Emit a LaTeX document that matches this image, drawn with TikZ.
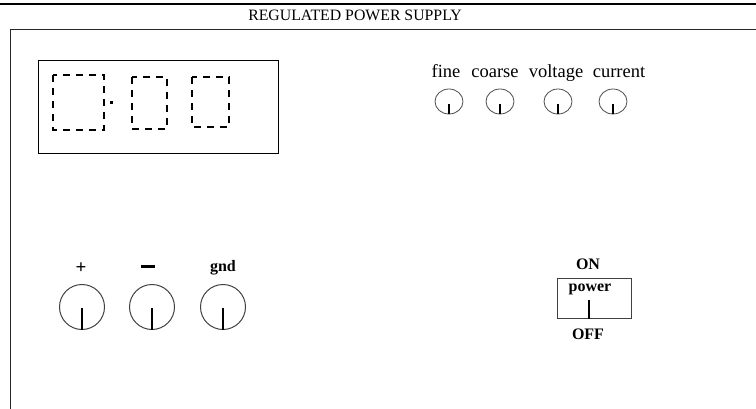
\documentclass[tikz,border=0pt]{standalone}
\usepackage{fontspec}
\setmainfont{Liberation Serif}
\begin{document}
\begin{tikzpicture}[x=1pt,y=-1pt,
  frameline/.style={line width=1pt,draw=black!85},
  digit/.style={line width=1.6pt,dash pattern=on 7pt off 6pt},
  bigknob/.style={draw=black!75,line width=1pt,circle,minimum size=45pt,inner sep=0pt},
  lbl/.style={font=\fontsize{18.5}{18.5}\selectfont,inner sep=0pt},
  blbl/.style={font=\bfseries\fontsize{16}{16}\selectfont,inner sep=0pt},
  pointer/.style={line width=2.2pt},
]
\useasboundingbox (0,0) rectangle (756,408);
\draw[line width=2.5pt] (0,4) -- (756,4);
\node[font=\fontsize{15.8}{15.8}\selectfont,inner sep=0pt] (title) at (355,15) {REGULATED POWER SUPPLY};
\draw[frameline] (757,29) -- (10,29) -- (10,409);
% display
\draw[line width=0.9pt] (38,60) rectangle (278,153);
\draw[digit] (53,75) rectangle (104,130);
\draw[digit] (132,77) rectangle (167,129);
\draw[digit] (192,77) rectangle (229,127);
\fill (110,101) rectangle (113,104);
% small knobs
\foreach \n/\x/\lx/\t in {fine/449/446/fine, coarse/500/495/coarse, voltage/558/556/voltage, current/613/619/current}{
  \node[lbl,anchor=base] (\n lbl) at (\lx,77) {\t};
  \draw[black!70,line width=0.8pt] (\x,101.5) ellipse [x radius=14pt, y radius=12.5pt];
  \coordinate (\n top) at (\x,104);
  \coordinate (\n bot) at (\x,114);
  \draw[pointer,line width=2pt] (\n top) -- (\n bot);
}
% big knobs
\foreach \n/\x/\lx/\t in {plus/82/81/{\fontsize{19}{19}\selectfont +}, minus/152/148/{\rule[3.5pt]{14pt}{2.6pt}}, gnd/223/223/gnd}{
  \node[blbl] (\n lbl) at (\lx,268) {\t};
  \node[bigknob] (\n) at (\x,307) {};
  \coordinate (\n c) at (\x,308);
  \draw[pointer,line width=2.6pt] (\n c) -- (\n.south);
}
% power switch
\node[blbl] (on) at (588,264) {ON};
\draw[line width=0.9pt,draw=black!75] (557,278) rectangle (631,318);
\node[blbl] (power) at (590,289) {power};
\coordinate (swtop) at (589,300);
\coordinate (swbot) at (589,318.5);
\draw[pointer,line width=2.4pt] (swtop) -- (swbot);
\node[blbl] (off) at (588,334) {OFF};
\end{tikzpicture}
\end{document}
